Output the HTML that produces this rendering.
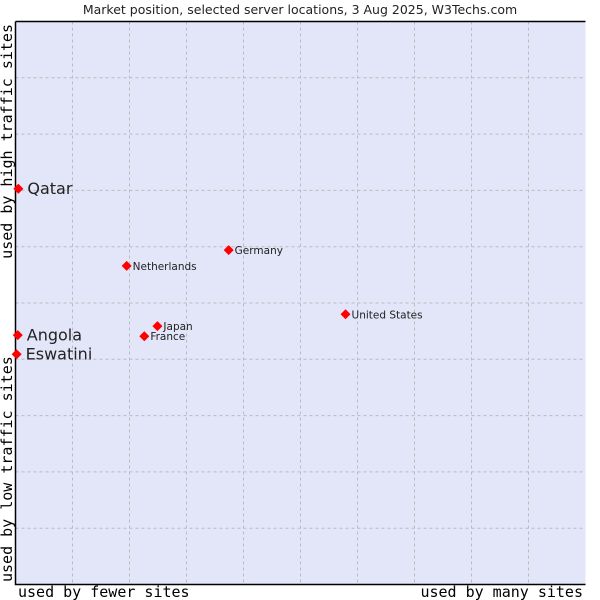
<!DOCTYPE html>
<html><head><meta charset="utf-8"><style>
body{margin:0;background:#fff;width:600px;height:600px;overflow:hidden}
svg{display:block}
</style></head><body>
<svg id="chart" width="600" height="600" xmlns="http://www.w3.org/2000/svg">
<text x="300" y="14" text-anchor="middle" font-family="DejaVu Sans, sans-serif" font-size="12.5" fill="#222">Market position, selected server locations, 3 Aug 2025, W3Techs.com</text>
<rect x="15.5" y="21.5" width="570" height="563" fill="#e3e5f8" stroke="none"/>
<g id="grid"></g>
<path d="M15.5 21.5 H585.5 M15.5 21.5 V584.5 H585.5" stroke="#000" stroke-width="1.5" fill="none"/>
<text x="18" y="597" font-family="DejaVu Sans Mono, monospace" font-size="15" fill="#000">used by fewer sites</text>
<text x="583" y="597" text-anchor="end" font-family="DejaVu Sans Mono, monospace" font-size="15" fill="#000">used by many sites</text>
<text transform="translate(12,24) rotate(-90)" text-anchor="end" font-family="DejaVu Sans Mono, monospace" font-size="15" fill="#000">used by high traffic sites</text>
<text transform="translate(12,582) rotate(-90)" font-family="DejaVu Sans Mono, monospace" font-size="15" fill="#000">used by low traffic sites</text>
<g id="points"></g>
</svg>
<script>
const names = ["Qatar","Angola","Eswatini","Netherlands","Germany","Japan","France","United States"];
const xValues = [0.5,0.4,0.2,19.5,37.4,24.9,22.6,57.9];
const yValues = [70.3,44.3,40.9,56.6,59.4,45.9,44.1,48.0];
const bigLabel = [true,true,true,false,false,false,false,false];
const ns="http://www.w3.org/2000/svg";
const L=15.5,R=585.5,T=21.5,B=584.5;
const xs=v=>L+(R-L)*v/100, ys=v=>B-(B-T)*v/100;
const grid=document.getElementById('grid');
for(let i=1;i<10;i++){
  const vx=document.createElementNS(ns,'line');
  
  
  vx.setAttribute('x1',xs(i*10));vx.setAttribute('x2',xs(i*10));vx.setAttribute('y1',T);vx.setAttribute('y2',B);
  vx.setAttribute('stroke','#bbb');vx.setAttribute('stroke-dasharray','3,3');grid.appendChild(vx);
  const hz=document.createElementNS(ns,'line');
  
  
  hz.setAttribute('y1',ys(i*10));hz.setAttribute('y2',ys(i*10));hz.setAttribute('x1',L);hz.setAttribute('x2',R);
  hz.setAttribute('stroke','#bbb');hz.setAttribute('stroke-dasharray','3,3');grid.appendChild(hz);
}
const pts=document.getElementById('points');
names.forEach((n,i)=>{
  const cx=xs(xValues[i]),cy=ys(yValues[i]);
  const d=document.createElementNS(ns,'path');
  
  
  d.setAttribute('d',`M${cx-5} ${cy}L${cx} ${cy-5}L${cx+5} ${cy}L${cx} ${cy+5}Z`);
  d.setAttribute('fill','#f00');pts.appendChild(d);
  const t=document.createElementNS(ns,'text');
  
  
  const big=bigLabel[i];
  t.setAttribute('x',cx+(big?9:6));t.setAttribute('y',cy+(big?5.5:4));
  t.setAttribute('font-family','DejaVu Sans, sans-serif');
  t.setAttribute('font-size',big?16:10.5);t.setAttribute('fill','#222');
  t.textContent=n;pts.appendChild(t);
});
</script>
</body></html>
